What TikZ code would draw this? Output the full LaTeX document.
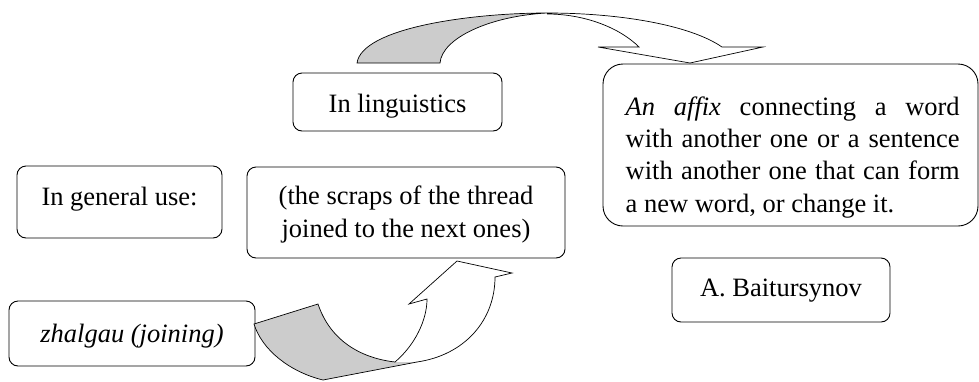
\documentclass[tikz,border=0pt]{standalone}
\usepackage{fontspec}
\setmainfont{Liberation Serif}
\usetikzlibrary{positioning}

\begin{document}
\begin{tikzpicture}[ x=1pt , y=-1pt , on grid , line width=0.9pt ,
 box/.style={ draw , rounded corners=9pt , inner sep=0pt , font=\fontsize{26.5}{32.3}\selectfont } ,
 band/.style={ line width=0.7pt , line join=miter } ]
\useasboundingbox (0,0) rectangle (979,381);
\node [ box , minimum width=205pt , text height=39pt , text depth=33pt ] (general) at (119.5,202) {In general use:};
\node [ box , minimum width=209pt , text height=39pt , text depth=19pt ] (ling) [above right = 100pt and 278pt of general] {In linguistics};
\node [ box , minimum width=318pt , text height=70pt , text depth=21pt , align=center ] (scraps) [below right = 10.5pt and 286.5pt of general] {(the scraps of the thread\\joined to the next ones)};
\node [ box , minimum width=246pt , text height=41pt , text depth=24pt ] (zhalgau) [below right = 131.5pt and 12.5pt of general] {\textit{zhalgau (joining)}};
\node [ box , rounded corners=20pt , minimum width=375pt , text height=148pt , text depth=14pt , align=left ] (affix) [below right = 43pt and 393pt of ling]
 {\hspace*{10pt}\makebox[334pt][s]{\textit{An affix} connecting a word}\\
  \hspace*{10pt}\makebox[334pt][s]{with another one or a sentence}\\
  \hspace*{10pt}\makebox[334pt][s]{with another one that can form}\\
  \hspace*{10pt}a new word, or change it.\hspace*{71pt}};
\node [ box , minimum width=218pt , text height=38pt , text depth=26pt ] (bait) [below left = 145pt and 9.5pt of affix] {A. Baitursynov};
\filldraw [ band , fill=gray!40 ] (357,63) .. controls (362,28) and (470,13) .. (547,13)
 .. controls (490,16) and (442,38) .. (440,63) -- cycle;
\draw [ band ] (547,13) .. controls (620,13) and (690,25) .. (722,47) -- (763,47) -- (690,63)
 -- (598,47) -- (639,47) .. controls (620,28) and (585,14) .. (547,14);
\fill [ gray!40 ] (254,324) -- (318,304) .. controls (330,340) and (360,358) .. (395,362)
 -- (417,362) -- (323,380) .. controls (290,372) and (262,350) .. (254,324) -- cycle;
\draw [ band ] (395,362) .. controls (360,358) and (330,340) .. (318,304) -- (254,324)
 .. controls (262,350) and (290,372) .. (323,380) -- (417,362);
\draw [ band ] (395,362) .. controls (415,345) and (427,320) .. (427,299) -- (409,304) -- (457,261)
 -- (512,273) -- (495,277) .. controls (495,320) and (465,355) .. (417,362);
\end{tikzpicture}
\end{document}
